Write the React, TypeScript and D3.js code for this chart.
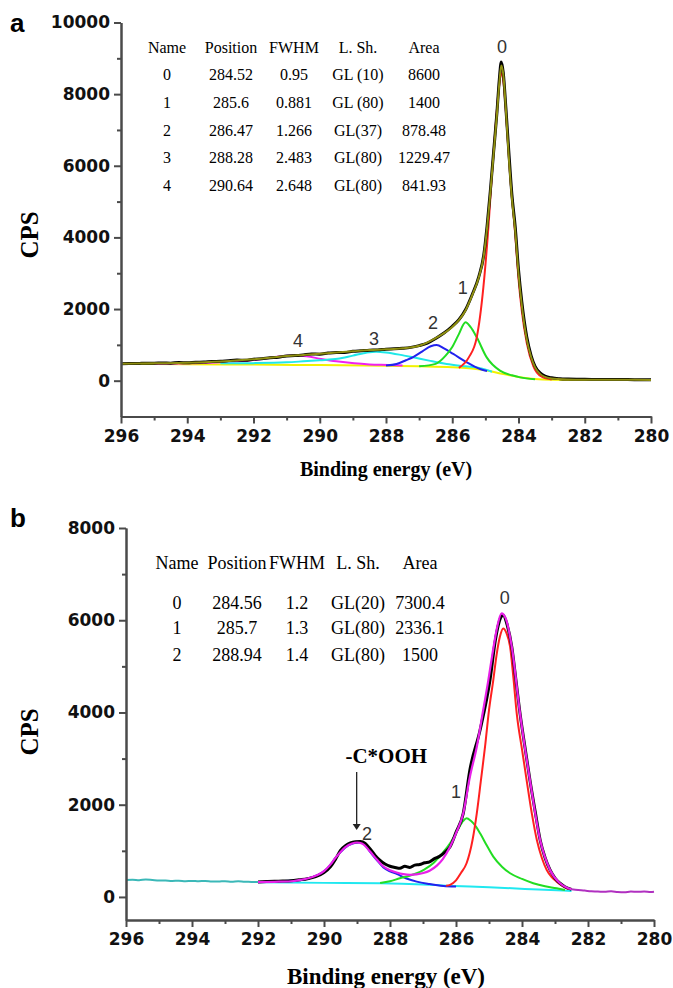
import React, { useEffect, useRef } from 'react';
import * as d3 from 'd3';

type Pt = [number, number];

// ---------- panel a ----------
const headA = ['Name', 'Position', 'FWHM', 'L. Sh.', 'Area'];
const rowsA = [
  ['0', '284.52', '0.95', 'GL (10)', '8600'],
  ['1', '285.6', '0.881', 'GL (80)', '1400'],
  ['2', '286.47', '1.266', 'GL(37)', '878.48'],
  ['3', '288.28', '2.483', 'GL(80)', '1229.47'],
  ['4', '290.64', '2.648', 'GL(80)', '841.93'],
];

const dataA: Pt[] = [
  [296, 470], [295.75, 482], [295.5, 478], [295.25, 490], [295, 486], [294.75, 495], [294.5, 490],
  [294.25, 505], [294, 500], [293.75, 515], [293.5, 520], [293.25, 535], [293, 540], [292.75, 560],
  [292.5, 575], [292.25, 570], [292, 600], [291.75, 615], [291.5, 640], [291.25, 655], [291, 690],
  [290.75, 700], [290.5, 720], [290.25, 745], [290, 740], [289.75, 770], [289.5, 790], [289.25, 785],
  [289, 820], [288.75, 835], [288.5, 850], [288.25, 860], [288, 880], [287.75, 890], [287.5, 905],
  [287.25, 930], [287, 980], [286.75, 1050], [286.5, 1180], [286.25, 1330], [286, 1520], [285.8, 1700],
  [285.6, 1980], [285.4, 2400], [285.2, 2900], [285.05, 3500], [284.95, 4300], [284.85, 5300],
  [284.75, 6400], [284.65, 7500], [284.58, 8400], [284.52, 8900], [284.46, 8600], [284.38, 7600],
  [284.3, 6500], [284.2, 5200], [284.1, 4300], [284, 3100], [283.9, 2200], [283.75, 1220],
  [283.62, 700], [283.5, 400], [283.35, 220], [283.2, 130], [283, 80], [282.75, 55], [282.5, 45],
  [282.25, 40], [282, 38], [281.5, 30], [281, 35], [280.5, 28], [280, 25],
];

const envelopeA: Pt[] = [
  [296, 470], [295, 485], [294, 500], [293, 535], [292, 595], [291, 690], [290.5, 720], [290, 750],
  [289.5, 785], [289, 820], [288.5, 855], [288, 875], [287.5, 905], [287, 975], [286.5, 1190],
  [286, 1500], [285.8, 1690], [285.6, 1960], [285.4, 2380], [285.2, 2880], [285.05, 3480],
  [284.95, 4250], [284.85, 5250], [284.75, 6350], [284.65, 7450], [284.58, 8300], [284.52, 8800],
  [284.46, 8550], [284.38, 7550], [284.3, 6350], [284.2, 5100], [284.1, 4200], [284, 3000],
  [283.9, 2100], [283.75, 1150], [283.62, 660], [283.5, 370], [283.35, 190], [283.2, 105],
  [283, 60], [282.5, 35], [282, 28], [281, 25], [280, 22],
];

const backgroundA: Pt[] = [
  [296, 468], [294, 460], [292, 450], [290, 435], [288, 415], [287, 400], [286, 375], [285.5, 345],
  [285, 290], [284.5, 190], [284, 105], [283.5, 45], [283, 25], [282, 20], [280, 20],
];

const peak0A: Pt[] = [
  [285.8, 360], [285.5, 650], [285.26, 1210], [285.06, 2610], [284.9, 4400], [284.8, 5800],
  [284.7, 7000], [284.6, 8100], [284.52, 8590], [284.45, 8300], [284.35, 7100], [284.25, 5700],
  [284.1, 4100], [284, 2850], [283.9, 1950], [283.75, 1050], [283.55, 400], [283.3, 110], [283, 35],
];

const peak1A: Pt[] = [
  [287, 400], [286.5, 470], [286.2, 700], [286, 940], [285.8, 1300], [285.6, 1630], [285.45, 1500],
  [285.26, 1210], [284.96, 650], [284.56, 280], [284.2, 150], [283.95, 92], [283.5, 40],
];

const peak2A: Pt[] = [
  [288, 425], [287.68, 467], [287.4, 570], [287.18, 660], [286.9, 820], [286.65, 960], [286.47, 997],
  [286.25, 900], [285.97, 746], [285.56, 512], [285.16, 326], [284.95, 270],
];

const peak3A: Pt[] = [
  [293, 484], [292, 490], [291, 512], [290.5, 540], [290, 570], [289.46, 610], [289, 700],
  [288.6, 780], [288.3, 810], [288, 790], [287.45, 700], [287.18, 652], [286.7, 560], [286.17, 467],
  [285.6, 400], [285.16, 350], [284.8, 250],
];

const peak4A: Pt[] = [
  [295, 470], [294.5, 475], [294, 485], [293, 512], [292, 579], [291.5, 640], [291.1, 690],
  [290.77, 700], [290.4, 680], [289.96, 607], [289.5, 540], [288.96, 484], [288.5, 455],
  [287.95, 439], [287.5, 425],
];

const labelsA: [string, number, number][] = [
  ['0', 284.5, 9314], ['1', 285.68, 2601], ['2', 286.58, 1622], ['3', 288.36, 1175], ['4', 290.66, 1119],
];

// ---------- panel b ----------
const headB = ['Name', 'Position', 'FWHM', 'L. Sh.', 'Area'];
const rowsB = [
  ['0', '284.56', '1.2', 'GL(20)', '7300.4'],
  ['1', '285.7', '1.3', 'GL(80)', '2336.1'],
  ['2', '288.94', '1.4', 'GL(80)', '1500'],
];

const rawLeftB: Pt[] = [
  [296, 368], [295.8, 374], [295.6, 364], [295.4, 378], [295.2, 368], [295, 358], [294.8, 354],
  [294.6, 346], [294.4, 352], [294.2, 342], [294, 348], [293.8, 340], [293.6, 346], [293.4, 336],
  [293.2, 334], [293, 342], [292.8, 330], [292.6, 340], [292.4, 328], [292.2, 326], [292, 322],
];

const rawRightB: Pt[] = [
  [282.5, 165], [282.3, 150], [282.1, 138], [281.9, 122], [281.7, 118], [281.5, 110], [281.3, 121],
  [281.1, 106], [280.9, 100], [280.7, 116], [280.5, 110], [280.3, 119], [280.1, 108], [280, 114],
];

const dataB: Pt[] = [
  [292, 325], [291.75, 333], [291.5, 340], [291.25, 344], [291, 352], [290.75, 372], [290.5, 395],
  [290.25, 440], [290, 530], [289.8, 660], [289.65, 820], [289.5, 1010], [289.35, 1110],
  [289.2, 1170], [289.05, 1195], [288.9, 1200], [288.75, 1160], [288.6, 1040], [288.45, 900],
  [288.3, 790], [288.15, 715], [288, 665], [287.85, 640], [287.7, 622], [287.55, 665], [287.4, 640],
  [287.25, 690], [287.1, 702], [286.95, 740], [286.8, 762], [286.65, 830], [286.5, 880],
  [286.35, 960], [286.18, 1090], [286, 1400], [285.78, 1813], [285.58, 2752], [285.27, 3619],
  [284.97, 4702], [284.8, 5600], [284.65, 6050], [284.57, 6110], [284.45, 5900], [284.31, 5424],
  [284.2, 4800], [284.06, 3980], [283.9, 3200], [283.76, 2535], [283.6, 1850], [283.45, 1235],
  [283.3, 850], [283.15, 585], [283, 410], [282.85, 297], [282.7, 220], [282.5, 165],
];

const envelopeB: Pt[] = [
  [292, 320], [291.5, 328], [291, 340], [290.73, 370], [290.5, 400], [290.22, 470], [290, 560],
  [289.82, 690], [289.65, 850], [289.52, 960], [289.35, 1080], [289.15, 1160], [289, 1180],
  [288.85, 1160], [288.61, 990], [288.4, 810], [288.2, 660], [288, 580], [287.8, 530], [287.6, 495],
  [287.39, 480], [287.2, 490], [286.99, 520], [286.8, 570], [286.58, 680], [286.4, 820],
  [286.18, 1090], [286, 1380], [285.78, 1813], [285.58, 2600], [285.37, 3257], [285.2, 3950],
  [285.02, 4700], [284.9, 5250], [284.77, 5790], [284.62, 6148], [284.5, 6050], [284.31, 5424],
  [284.06, 3980], [283.76, 2535], [283.45, 1235], [283.15, 585], [282.85, 297], [282.6, 190],
  [282.5, 170],
];

const backgroundB: Pt[] = [
  [292, 320], [290, 305], [288.3, 296], [287, 270], [286.3, 245], [285, 210], [284.3, 188],
  [283.5, 160], [282.75, 137], [282.5, 130],
];

const peak0B: Pt[] = [
  [286.3, 245], [286.18, 262], [286, 360], [285.85, 520], [285.68, 730], [285.5, 1230],
  [285.37, 1813], [285.25, 2500], [285.12, 3257], [285, 4050], [284.87, 4702], [284.77, 5250],
  [284.67, 5641], [284.57, 5822], [284.47, 5720], [284.36, 5424], [284.26, 4750], [284.16, 3980],
  [284, 3200], [283.86, 2535], [283.7, 1800], [283.55, 1235], [283.4, 850], [283.25, 585],
  [283.1, 430], [282.95, 332], [282.8, 250], [282.6, 170],
];

const peak1B: Pt[] = [
  [288.3, 300], [288, 340], [287.7, 405], [287.45, 450], [287.19, 513], [286.95, 600], [286.69, 730],
  [286.45, 920], [286.18, 1163], [285.95, 1450], [285.78, 1650], [285.68, 1705], [285.55, 1650],
  [285.4, 1530], [285.27, 1380], [285.07, 1120], [284.87, 873], [284.6, 650], [284.36, 513],
  [284, 390], [283.66, 297], [283.3, 230], [282.95, 188], [282.7, 150],
];

const peak2B: Pt[] = [
  [291.75, 330], [291.2, 345], [290.73, 362], [290.5, 395], [290.22, 465], [290, 555], [289.82, 685],
  [289.65, 845], [289.52, 955], [289.35, 1075], [289.15, 1155], [288.94, 1178], [288.8, 1150],
  [288.61, 985], [288.4, 800], [288.2, 640], [288, 555], [287.8, 500], [287.5, 400], [287.19, 332],
  [286.8, 280], [286.38, 238], [286, 225],
];

const labelsB: [string, number, number][] = [
  ['0', 284.52, 6480], ['1', 286.0, 2275], ['2', 288.7, 1365],
];

const xTicks = [296, 294, 292, 290, 288, 286, 284, 282, 280];
const xMinor = [295, 293, 291, 289, 287, 285, 283, 281];
const yTicksA = [0, 2000, 4000, 6000, 8000, 10000];
const yMinorA = [1000, 3000, 5000, 7000, 9000];
const yTicksB = [0, 2000, 4000, 6000, 8000];
const yMinorB = [1000, 3000, 5000, 7000];

const SANS = '"DejaVu Sans", Arial, sans-serif';
const SERIF = '"Liberation Serif", "Times New Roman", serif';

function drawPanel(svg: any, o: any) {
  const g = svg.append('g');
  const x = d3.scaleLinear().domain([296, 280]).range([o.x0, o.x1]);
  const y = d3.scaleLinear().domain(o.yDomain).range([o.yBottom, o.yTop]);
  const line = d3.line<Pt>().x(d => x(d[0])).y(d => y(d[1])).curve(d3.curveMonotoneX);

  // series
  o.series.forEach((s: any) => {
    g.append('path').attr('d', line(s.data)).attr('fill', 'none')
      .attr('stroke', s.color).attr('stroke-width', s.w).attr('stroke-linejoin', 'round');
  });

  // axes
  const styleAxis = (sel: any) => {
    sel.select('.domain').attr('stroke', '#4a4a4a').attr('stroke-width', 2);
    sel.selectAll('.tick line').attr('stroke', '#4a4a4a').attr('stroke-width', 2);
    sel.selectAll('.tick text').attr('fill', '#111').attr('font-family', SANS)
      .attr('font-weight', 'bold').attr('font-size', 17);
  };
  g.append('g').attr('transform', `translate(${o.x0},0)`)
    .call(d3.axisLeft(y).tickValues(o.yMinor).tickSize(4).tickSizeOuter(0).tickFormat(() => ''))
    .call(styleAxis);
  g.append('g').attr('transform', `translate(${o.x0},0)`)
    .call(d3.axisLeft(y).tickValues(o.yTicks).tickSize(7).tickSizeOuter(0).tickPadding(4).tickFormat(d3.format('d')))
    .call(styleAxis);
  g.append('g').attr('transform', `translate(0,${o.yBottom})`)
    .call(d3.axisBottom(x).tickValues(xMinor).tickSize(4).tickSizeOuter(0).tickFormat(() => ''))
    .call(styleAxis);
  g.append('g').attr('transform', `translate(0,${o.yBottom})`)
    .call(d3.axisBottom(x).tickValues(xTicks).tickSize(7).tickSizeOuter(0).tickPadding(6).tickFormat(d3.format('d')))
    .call(styleAxis);

  // table
  o.table.cols.forEach((cx: number, i: number) => {
    g.append('text').attr('x', cx).attr('y', o.table.headY).attr('text-anchor', 'middle')
      .attr('dy', '0.35em').attr('font-family', SERIF).attr('font-size', o.table.size).text(o.table.head[i]);
    o.table.rows.forEach((r: string[], j: number) => {
      g.append('text').attr('x', cx).attr('y', o.table.rowY[j]).attr('text-anchor', 'middle')
        .attr('dy', '0.35em').attr('font-family', SERIF).attr('font-size', o.table.size).text(r[i]);
    });
  });

  // peak labels
  o.labels.forEach((l: [string, number, number]) => {
    g.append('text').attr('x', x(l[1])).attr('y', y(l[2])).attr('text-anchor', 'middle')
      .attr('dy', '0.35em').attr('font-family', '"Liberation Sans", Arial, sans-serif')
      .attr('font-size', 18).attr('fill', '#333').text(l[0]);
  });

  // panel letter and titles
  g.append('text').attr('x', 10).attr('y', o.letterY).attr('font-family', '"Liberation Sans", Arial, sans-serif')
    .attr('font-weight', 'bold').attr('font-size', 26).text(o.letter);
  g.append('text').attr('transform', `translate(38,${o.cpsY}) rotate(-90)`).attr('text-anchor', 'middle')
    .attr('font-family', SERIF).attr('font-weight', 'bold').attr('font-size', 25).text('CPS');
  g.append('text').attr('x', 386).attr('y', o.titleY).attr('text-anchor', 'middle')
    .attr('font-family', SERIF).attr('font-weight', 'bold').attr('font-size', o.titleSize).text('Binding energy (eV)');

  return { x, y, g };
}

export default function App() {
  const ref = useRef<SVGSVGElement>(null);

  useEffect(() => {
    const svg = d3.select(ref.current);
    svg.selectAll('*').remove();

    drawPanel(svg, {
      x0: 121, x1: 651, yDomain: [-1000, 10000], yBottom: 416.5, yTop: 22.5,
      yTicks: yTicksA, yMinor: yMinorA,
      series: [
        { data: backgroundA, color: '#f2f200', w: 2 },
        { data: peak4A, color: '#f020f0', w: 2 },
        { data: peak3A, color: '#20e8e8', w: 2 },
        { data: peak2A, color: '#2222ee', w: 2 },
        { data: peak1A, color: '#22dd22', w: 2 },
        { data: peak0A, color: '#ff2020', w: 2 },
        { data: dataA, color: '#000', w: 3 },
        { data: envelopeA, color: '#8f8f10', w: 2 },
      ],
      table: {
        head: headA, rows: rowsA, cols: [167, 231, 294, 358, 424], headY: 47,
        rowY: [74, 102, 130, 157, 185], size: 16,
      },
      labels: labelsA,
      letter: 'a', letterY: 32, cpsY: 235, titleY: 476, titleSize: 20,
    });

    const b = drawPanel(svg, {
      x0: 126, x1: 654, yDomain: [-500, 8000], yBottom: 920, yTop: 528,
      yTicks: yTicksB, yMinor: yMinorB,
      series: [
        { data: rawLeftB, color: '#3bb8b8', w: 2 },
        { data: backgroundB, color: '#20e8f0', w: 2 },
        { data: peak2B, color: '#2222ee', w: 2 },
        { data: peak1B, color: '#22dd22', w: 2 },
        { data: peak0B, color: '#ff2020', w: 2 },
        { data: dataB, color: '#000', w: 3 },
        { data: envelopeB, color: '#e820e8', w: 2.2 },
        { data: rawRightB, color: '#b030c0', w: 2 },
      ],
      table: {
        head: headB, rows: rowsB, cols: [177, 237, 297, 358, 420], headY: 563,
        rowY: [603, 628, 655], size: 18,
      },
      labels: labelsB,
      letter: 'b', letterY: 527, cpsY: 732, titleY: 984, titleSize: 23,
    });

    // -C*OOH annotation with arrow
    const ax = b.x(289.01);
    b.g.append('text').attr('x', b.x(289.35)).attr('y', b.y(2904))
      .attr('font-family', SERIF).attr('font-weight', 'bold').attr('font-size', 21).text('-C*OOH');
    b.g.append('line').attr('x1', ax).attr('x2', ax).attr('y1', b.y(2709)).attr('y2', b.y(1560))
      .attr('stroke', '#222').attr('stroke-width', 1.3);
    b.g.append('path')
      .attr('d', `M${ax - 4},${b.y(1580)} L${ax + 4},${b.y(1580)} L${ax},${b.y(1452)} Z`)
      .attr('fill', '#222');
  }, []);

  return (
    <svg ref={ref} width={673} height={988}
      style={{ position: 'absolute', left: 0, top: 0, background: '#fff' }} />
  );
}
